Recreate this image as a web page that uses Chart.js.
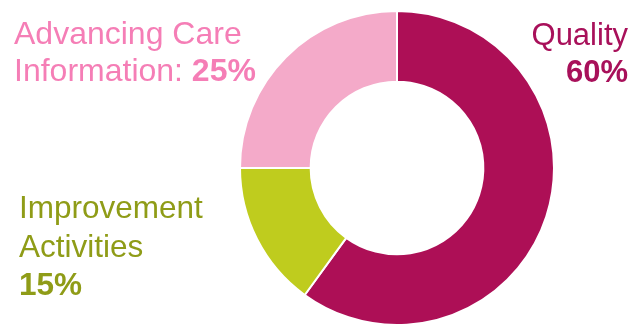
<!DOCTYPE html>
<html>
<head>
<meta charset="utf-8">
<script src="https://cdn.jsdelivr.net/npm/chart.js@4"></script>
<style>
  html, body { margin: 0; padding: 0; background: #fff; overflow: hidden; }
  #wrap { position: relative; width: 635px; height: 330px; }
</style>
</head>
<body>
<div id="wrap"><canvas id="mipsChart"></canvas></div>
<script>
const categories = ['Quality', 'Improvement Activities', 'Advancing Care Information'];
const weights = [60, 15, 25];
const sliceColors = ['#AD0F56', '#BFCC1E', '#F4AAC9'];
const textColors = ['#A8105A', '#8F9C17', '#F57EB6'];

// label lines: [text, bold] parts per line, plus anchor
const labelLayout = [
    { x: 628, y: 45, size: 31, gap: 37, align: 'right', lines: [[['Quality', false]], [[weights[0] + '%', true]]] },
    { x: 19, y: 218, size: 31.5, gap: 38.5, align: 'left', lines: [[['Improvement', false]], [['Activities', false]], [[weights[1] + '%', true]]] },
    { x: 14, y: 44, size: 32, gap: 37, align: 'left', lines: [[['Advancing Care', false]], [['Information: ', false], [weights[2] + '%', true]]] }
];

const labelPlugin = {
    id: 'sideLabels',
    afterDraw(chart) {
        const ctx = chart.ctx;
        ctx.save();
        ctx.textBaseline = 'alphabetic';
        ctx.textAlign = 'left';
        labelLayout.forEach((lab, i) => {
            ctx.fillStyle = textColors[i];
            const fontFor = bold => (bold ? 'bold ' : '') + lab.size + 'px "Liberation Sans", Arial, sans-serif';
            lab.lines.forEach((parts, li) => {
                const y = lab.y + li * lab.gap;
                let total = 0;
                parts.forEach(p => {
                    ctx.font = fontFor(p[1]);
                    total += ctx.measureText(p[0]).width;
                });
                let x = lab.align === 'right' ? lab.x - total : lab.x;
                parts.forEach(p => {
                    ctx.font = fontFor(p[1]);
                    ctx.fillText(p[0], x, y);
                    x += ctx.measureText(p[0]).width;
                });
            });
        });
        ctx.restore();
    }
};

new Chart(document.getElementById('mipsChart'), {
    type: 'doughnut',
    data: {
        labels: categories,
        datasets: [{
            data: weights,
            backgroundColor: sliceColors,
            borderColor: '#ffffff',
            borderWidth: 2,
            hoverOffset: 0
        }]
    },
    options: {
        responsive: true,
        maintainAspectRatio: false,
        animation: false,
        cutout: '55%',
        layout: { padding: { top: 10, bottom: 4, left: 239, right: 80 } },
        plugins: {
            legend: { display: false },
            tooltip: { enabled: false }
        }
    },
    plugins: [labelPlugin]
});
</script>
</body>
</html>
